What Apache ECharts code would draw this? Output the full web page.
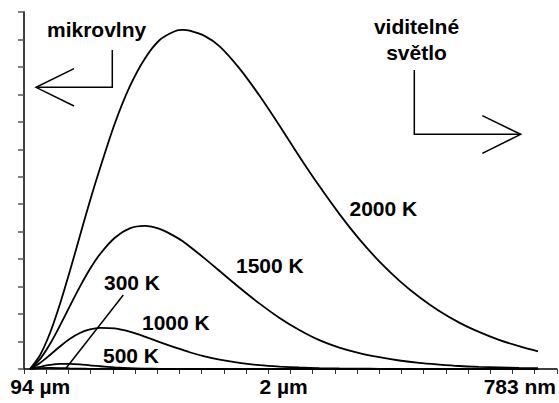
<!DOCTYPE html>
<html><head><meta charset="utf-8">
<script src="https://cdn.jsdelivr.net/npm/echarts@6/dist/echarts.min.js"></script>
<style>html,body{margin:0;padding:0;background:#fff}#c{width:559px;height:403px}</style>
</head><body><div id="c"></div>
<script>
// x positions of samples (axis units; 24 tick intervals across the axis)
const xPos = [0.27, 0.72, 1.17, 1.62, 2.07, 2.52, 2.97, 3.42, 4.09, 4.76, 5.44, 6.11, 6.79, 7.15, 7.46, 8.13, 8.81,
  9.71, 10.61, 11.51, 12.40, 13.30, 14.20, 15.10, 16.00, 16.90, 17.80, 18.70, 19.60, 20.49, 21.39, 22.29, 23.15];
const t2000 = [0, 0.50, 1.31, 2.37, 3.58, 4.85, 6.12, 7.30, 8.94, 10.28, 11.30, 11.98, 12.30, 12.35, 12.32, 12.13, 11.75,
  10.94, 9.95, 8.86, 7.74, 6.66, 5.65, 4.73, 3.92, 3.22, 2.62, 2.11, 1.69, 1.35, 1.06, 0.83, 0.64];
const t1500 = [0, 0.36, 0.91, 1.58, 2.30, 3.00, 3.64, 4.18, 4.78, 5.12, 5.21, 5.10, 4.83, 4.65, 4.46, 4.03, 3.57,
  2.96, 2.38, 1.86, 1.42, 1.05, 0.78, 0.58, 0.43, 0.31, 0.22, 0.16, 0.11, 0.08, 0.06, 0.04, 0.03];
const t1000 = [0, 0.22, 0.51, 0.82, 1.10, 1.31, 1.44, 1.50, 1.48, 1.36, 1.18, 0.98, 0.79, 0.70, 0.61, 0.46, 0.34,
  0.22, 0.14, 0.09, 0.055, 0.033, 0.02, 0.012, 0.007, 0.004, 0.002, 0.001, 0, 0, 0, 0, 0];
const t500 = [0, 0.08, 0.15, 0.19, 0.19, 0.17, 0.13, 0.10, 0.06, 0.03, 0.016, 0.008, 0.004, 0.003, 0.002, 0, 0,
  0, 0, 0, 0, 0, 0, 0, 0, 0, 0, 0, 0, 0, 0, 0, 0];
const t300 = [0, 0.03, 0.04, 0.034, 0.022, 0.012, 0.006, 0.003, 0, 0, 0, 0, 0, 0, 0, 0, 0,
  0, 0, 0, 0, 0, 0, 0, 0, 0, 0, 0, 0, 0, 0, 0, 0];
const seriesNames = ['2000 K', '1500 K', '1000 K', '500 K', '300 K'];
const seriesValues = [t2000, t1500, t1000, t500, t300];
const tickLabels = ['94 µm', '2 µm', '783 nm'];
const tickLabelAt = [0.73, 11.69, 22.33];

const FONT = '"Liberation Sans", Arial, sans-serif';
const chart = echarts.init(document.getElementById('c'), null, {renderer: 'svg'});

function txt(text, x, y, align) {
  return {type: 'text', z: 100, style: {text: text, x: x, y: y, fill: '#000',
    font: 'bold 21px ' + FONT, textAlign: align || 'left', textVerticalAlign: 'middle'}};
}
function poly(points) {
  return {type: 'polyline', z: 100, shape: {points: points},
    style: {stroke: '#000', lineWidth: 1.5, fill: null}};
}

chart.setOption({
  animation: false,
  backgroundColor: '#fff',
  grid: {left: 24, right: 1, top: 12, bottom: 34, containLabel: false},
  xAxis: {
    type: 'value', min: 0, max: 24, interval: 1,
    axisLine: {show: true, onZero: false, lineStyle: {color: '#000', width: 1.5}},
    axisTick: {show: true, inside: false, length: 5, lineStyle: {color: '#333', width: 1}},
    splitLine: {show: false},
    axisLabel: {
      show: true, customValues: tickLabelAt, margin: 7,
      fontFamily: FONT, fontWeight: 'bold', fontSize: 21, color: '#000',
      formatter: function (v) {
        let best = 0;
        for (let i = 0; i < tickLabelAt.length; i++) {
          if (Math.abs(tickLabelAt[i] - v) < Math.abs(tickLabelAt[best] - v)) best = i;
        }
        return tickLabels[best];
      }
    }
  },
  yAxis: {
    type: 'value', min: 0, max: 13, interval: 1,
    axisLine: {show: true, lineStyle: {color: '#404040', width: 2}},
    axisTick: {show: true, inside: false, length: 6, lineStyle: {color: '#555', width: 1.5}},
    axisLabel: {show: false},
    splitLine: {show: false}
  },
  series: seriesNames.map(function (name, k) {
    return {
      name: name, type: 'line', smooth: 0.3, symbol: 'none', clip: false,
      lineStyle: {color: '#000', width: 1.8},
      data: xPos.map(function (x, i) { return [x, seriesValues[k][i]]; })
    };
  }),
  graphic: [
    txt('mikrovlny', 47, 29.2),
    txt('viditelné', 416.5, 26.0, 'center'),
    txt('světlo', 416.5, 52.0, 'center'),
    txt('2000 K', 349.5, 208.7),
    txt('1500 K', 236, 265.4),
    txt('1000 K', 142, 322.7),
    txt('300 K', 104, 282),
    txt('500 K', 103, 355.4),
    poly([[112.3, 50], [112.3, 87.3], [36, 87.3]]),
    poly([[74, 68.7], [36, 87.3], [74, 106]]),
    poly([[414.3, 70], [414.3, 134.3], [520.7, 134.3]]),
    poly([[482.3, 115.7], [520.7, 134.3], [482.3, 153.3]]),
    poly([[123.3, 295], [66, 368.3]])
  ]
});
</script>
</body></html>
